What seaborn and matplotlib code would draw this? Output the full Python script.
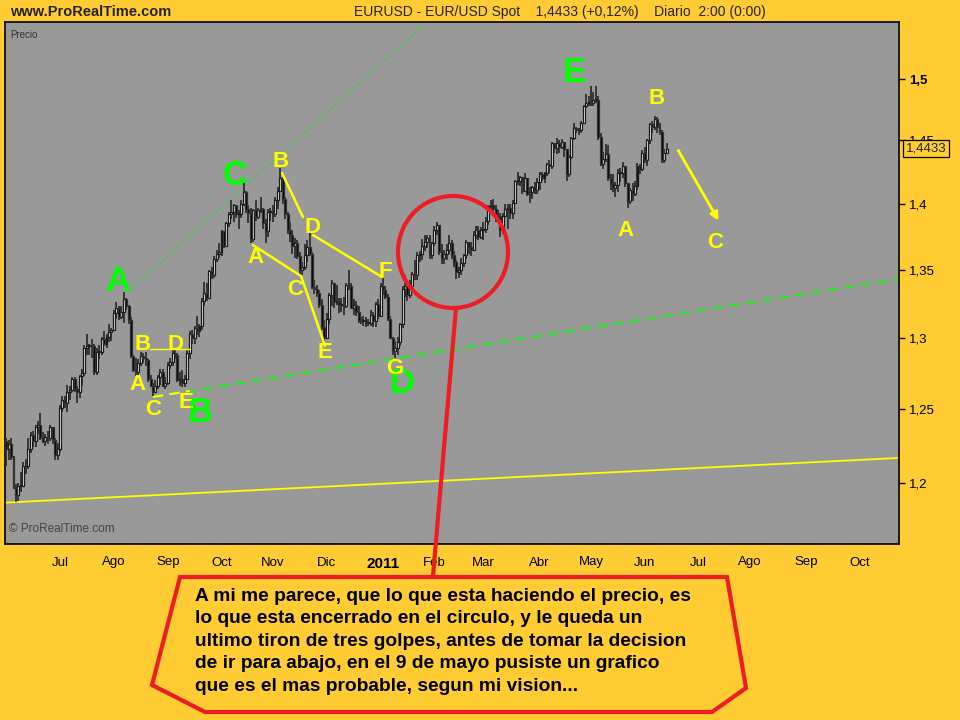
import numpy as np
import pandas as pd
import matplotlib
matplotlib.use("Agg")
import matplotlib.pyplot as plt
import matplotlib.transforms as mtransforms
from matplotlib.patches import Ellipse, Polygon
from matplotlib.lines import Line2D
from matplotlib.ticker import NullLocator
import seaborn as sns

# ---- data: EUR/USD daily candles, 1 Jun 2010 - 14 Jun 2011 ----
first_open = 1.2280
closes = [
    # Jun 2010
    1.2230, 1.2260, 1.2170, 1.1965, 1.1920, 1.1980, 1.1980, 1.2110, 1.2110, 1.2230,
    1.2320, 1.2280, 1.2380, 1.2390, 1.2300, 1.2280, 1.2310, 1.2300, 1.2380, 1.2290,
    1.2190, 1.2230,
    # Jul
    1.2510, 1.2560, 1.2540, 1.2620, 1.2630, 1.2710, 1.2640, 1.2620, 1.2730, 1.2750,
    1.2930, 1.2940, 1.2950, 1.2940, 1.2760, 1.2900, 1.2900, 1.2990, 1.2960, 1.3010,
    1.3040, 1.3060,
    # Aug
    1.3180, 1.3220, 1.3150, 1.3190, 1.3280, 1.3230, 1.3130, 1.2870, 1.2770, 1.2760,
    1.2820, 1.2870, 1.2860, 1.2840, 1.2710, 1.2660, 1.2620, 1.2660, 1.2720, 1.2760,
    1.2660, 1.2680,
    # Sep
    1.2810, 1.2830, 1.2890, 1.2880, 1.2700, 1.2710, 1.2680, 1.2710, 1.2890, 1.3030,
    1.3000, 1.3070, 1.3050, 1.3090, 1.3270, 1.3330, 1.3290, 1.3490, 1.3460, 1.3580,
    1.3620, 1.3630,
    # Oct
    1.3790, 1.3680, 1.3850, 1.3920, 1.3940, 1.3990, 1.3920, 1.3920, 1.4000, 1.4090,
    1.3960, 1.3930, 1.3730, 1.3950, 1.3900, 1.3950, 1.3960, 1.3850, 1.3790, 1.3940,
    1.3940,
    # Nov
    1.3920, 1.4030, 1.4100, 1.4200, 1.4040, 1.3920, 1.3800, 1.3760, 1.3680, 1.3700,
    1.3600, 1.3500, 1.3520, 1.3610, 1.3670, 1.3620, 1.3370, 1.3360, 1.3330, 1.3240,
    1.3080, 1.3000,
    # Dec
    1.3140, 1.3310, 1.3400, 1.3260, 1.3270, 1.3240, 1.3240, 1.3230, 1.3390, 1.3380,
    1.3220, 1.3240, 1.3190, 1.3130, 1.3120, 1.3130, 1.3110, 1.3110, 1.3170, 1.3120,
    1.3250, 1.3160, 1.3380,
    # Jan 2011
    1.3350, 1.3300, 1.3140, 1.3000, 1.2910, 1.2930, 1.2970, 1.3100, 1.3360, 1.3380,
    1.3310, 1.3380, 1.3470, 1.3460, 1.3610, 1.3620, 1.3680, 1.3710, 1.3740, 1.3610,
    1.3700,
    # Feb
    1.3800, 1.3840, 1.3630, 1.3590, 1.3620, 1.3650, 1.3700, 1.3610, 1.3560, 1.3480,
    1.3500, 1.3550, 1.3610, 1.3710, 1.3670, 1.3650, 1.3760, 1.3800, 1.3750, 1.3800,
    # Mar
    1.3810, 1.3870, 1.3980, 1.3990, 1.3960, 1.3900, 1.3910, 1.3800, 1.3910, 1.3960,
    1.3970, 1.3930, 1.4010, 1.4180, 1.4180, 1.4210, 1.4100, 1.4200, 1.4080, 1.4090,
    1.4130, 1.4110, 1.4170,
    # Apr
    1.4230, 1.4200, 1.4240, 1.4310, 1.4300, 1.4480, 1.4440, 1.4480, 1.4450, 1.4490,
    1.4430, 1.4230, 1.4370, 1.4520, 1.4600, 1.4580, 1.4580, 1.4640, 1.4780, 1.4800,
    1.4810,
    # May
    1.4800, 1.4830, 1.4830, 1.4530, 1.4310, 1.4350, 1.4390, 1.4200, 1.4160, 1.4120,
    1.4150, 1.4240, 1.4240, 1.4300, 1.4160, 1.4020, 1.4110, 1.4080, 1.4140, 1.4300,
    1.4270, 1.4400,
    # Jun
    1.4340, 1.4500, 1.4630, 1.4610, 1.4670, 1.4610, 1.4570, 1.4340, 1.4400, 1.4433,
]
highs = [
    1.2300, 1.2290, 1.2300, 1.2180, 1.1990, 1.2000, 1.2070, 1.2140, 1.2160, 1.2300,
    1.2340, 1.2350, 1.2390, 1.2420, 1.2470, 1.2340, 1.2330, 1.2350, 1.2390, 1.2380,
    1.2300, 1.2270,
    1.2530, 1.2590, 1.2590, 1.2670, 1.2660, 1.2720, 1.2720, 1.2660, 1.2740, 1.2780,
    1.2950, 1.3030, 1.2960, 1.2990, 1.2960, 1.2930, 1.2950, 1.3010, 1.3050, 1.3030,
    1.3100, 1.3070,
    1.3200, 1.3260, 1.3230, 1.3230, 1.3333, 1.3290, 1.3240, 1.3150, 1.2880, 1.2860,
    1.2850, 1.2900, 1.2890, 1.2900, 1.2850, 1.2740, 1.2680, 1.2700, 1.2740, 1.2780,
    1.2780, 1.2720,
    1.2830, 1.2860, 1.2920, 1.2930, 1.2890, 1.2760, 1.2770, 1.2740, 1.2920, 1.3050,
    1.3060, 1.3090, 1.3160, 1.3100, 1.3290, 1.3410, 1.3400, 1.3500, 1.3520, 1.3600,
    1.3650, 1.3700,
    1.3800, 1.3790, 1.3860, 1.3940, 1.4030, 1.4000, 1.3990, 1.3950, 1.4030, 1.4160,
    1.4100, 1.3990, 1.3970, 1.3960, 1.4030, 1.3970, 1.4050, 1.3970, 1.3880, 1.3960,
    1.3970,
    1.3990, 1.4050, 1.4130, 1.4282, 1.4220, 1.4050, 1.3940, 1.3860, 1.3800, 1.3740,
    1.3720, 1.3630, 1.3560, 1.3690, 1.3720, 1.3790, 1.3630, 1.3420, 1.3390, 1.3350,
    1.3280, 1.3130,
    1.3180, 1.3330, 1.3420, 1.3400, 1.3390, 1.3290, 1.3290, 1.3300, 1.3400, 1.3500,
    1.3400, 1.3280, 1.3270, 1.3230, 1.3150, 1.3160, 1.3150, 1.3140, 1.3200, 1.3190,
    1.3260, 1.3280, 1.3400,
    1.3440, 1.3380, 1.3320, 1.3160, 1.3010, 1.2980, 1.3010, 1.3110, 1.3380, 1.3460,
    1.3380, 1.3420, 1.3480, 1.3570, 1.3630, 1.3640, 1.3730, 1.3760, 1.3760, 1.3760,
    1.3710,
    1.3830, 1.3860, 1.3840, 1.3690, 1.3650, 1.3690, 1.3760, 1.3720, 1.3640, 1.3570,
    1.3520, 1.3590, 1.3620, 1.3720, 1.3710, 1.3710, 1.3790, 1.3830, 1.3830, 1.3820,
    1.3860, 1.3900, 1.3990, 1.4030, 1.4040, 1.3990, 1.3950, 1.3930, 1.3930, 1.4000,
    1.4000, 1.4000, 1.4030, 1.4190, 1.4250, 1.4220, 1.4210, 1.4240, 1.4200, 1.4130,
    1.4140, 1.4170, 1.4200,
    1.4250, 1.4250, 1.4250, 1.4320, 1.4340, 1.4490, 1.4480, 1.4520, 1.4500, 1.4510,
    1.4490, 1.4430, 1.4380, 1.4530, 1.4640, 1.4610, 1.4600, 1.4660, 1.4790, 1.4880,
    1.4860,
    1.4940, 1.4890, 1.4940, 1.4860, 1.4560, 1.4410, 1.4470, 1.4460, 1.4230, 1.4230,
    1.4170, 1.4270, 1.4280, 1.4330, 1.4300, 1.4130, 1.4120, 1.4160, 1.4180, 1.4320,
    1.4310, 1.4420,
    1.4450, 1.4510, 1.4640, 1.4660, 1.4695, 1.4690, 1.4640, 1.4580, 1.4430, 1.4480,
]
lows = [
    1.2110, 1.2150, 1.2150, 1.1960, 1.1876, 1.1880, 1.1940, 1.1970, 1.2060, 1.2090,
    1.2200, 1.2240, 1.2240, 1.2330, 1.2290, 1.2270, 1.2250, 1.2260, 1.2280, 1.2260,
    1.2150, 1.2150,
    1.2210, 1.2480, 1.2510, 1.2480, 1.2560, 1.2620, 1.2620, 1.2540, 1.2580, 1.2660,
    1.2730, 1.2880, 1.2880, 1.2860, 1.2740, 1.2740, 1.2850, 1.2880, 1.2940, 1.2930,
    1.2970, 1.2980,
    1.3050, 1.3140, 1.3130, 1.3140, 1.3110, 1.3200, 1.3100, 1.2860, 1.2760, 1.2730,
    1.2720, 1.2800, 1.2820, 1.2800, 1.2690, 1.2650, 1.2588, 1.2620, 1.2640, 1.2670,
    1.2650, 1.2640,
    1.2670, 1.2780, 1.2800, 1.2850, 1.2690, 1.2660, 1.2650, 1.2650, 1.2710, 1.2850,
    1.2960, 1.2960, 1.3020, 1.3010, 1.3060, 1.3230, 1.3270, 1.3290, 1.3430, 1.3440,
    1.3560, 1.3590,
    1.3600, 1.3660, 1.3680, 1.3820, 1.3880, 1.3860, 1.3890, 1.3810, 1.3890, 1.3980,
    1.3930, 1.3850, 1.3700, 1.3710, 1.3870, 1.3880, 1.3930, 1.3810, 1.3700, 1.3750,
    1.3870,
    1.3860, 1.3900, 1.3960, 1.4090, 1.4000, 1.3880, 1.3770, 1.3710, 1.3620, 1.3590,
    1.3580, 1.3450, 1.3460, 1.3500, 1.3560, 1.3600, 1.3360, 1.3320, 1.3300, 1.3220,
    1.3060, 1.2969,
    1.2990, 1.3100, 1.3230, 1.3220, 1.3240, 1.3180, 1.3190, 1.3170, 1.3220, 1.3350,
    1.3210, 1.3170, 1.3160, 1.3110, 1.3100, 1.3090, 1.3080, 1.3090, 1.3090, 1.3080,
    1.3080, 1.3140, 1.3150,
    1.3310, 1.3280, 1.3120, 1.2990, 1.2880, 1.2861, 1.2880, 1.2940, 1.3070, 1.3300,
    1.3270, 1.3290, 1.3350, 1.3420, 1.3420, 1.3560, 1.3570, 1.3640, 1.3660, 1.3580,
    1.3580,
    1.3680, 1.3760, 1.3610, 1.3540, 1.3540, 1.3570, 1.3620, 1.3580, 1.3520, 1.3429,
    1.3440, 1.3460, 1.3520, 1.3580, 1.3620, 1.3600, 1.3640, 1.3730, 1.3720, 1.3730,
    1.3720, 1.3780, 1.3840, 1.3930, 1.3910, 1.3860, 1.3850, 1.3750, 1.3770, 1.3900,
    1.3810, 1.3880, 1.3880, 1.4000, 1.4150, 1.4140, 1.4080, 1.4090, 1.4060, 1.4010,
    1.4040, 1.4080, 1.4080,
    1.4110, 1.4180, 1.4160, 1.4220, 1.4240, 1.4270, 1.4400, 1.4390, 1.4400, 1.4430,
    1.4370, 1.4180, 1.4210, 1.4350, 1.4500, 1.4560, 1.4540, 1.4560, 1.4630, 1.4760,
    1.4780,
    1.4780, 1.4780, 1.4800, 1.4500, 1.4300, 1.4270, 1.4330, 1.4180, 1.4110, 1.4090,
    1.4050, 1.4090, 1.4170, 1.4200, 1.4130, 1.3968, 1.4000, 1.4020, 1.4060, 1.4110,
    1.4230, 1.4260,
    1.4320, 1.4300, 1.4470, 1.4560, 1.4580, 1.4560, 1.4540, 1.4320, 1.4320, 1.4390,
]
dates = pd.bdate_range("2010-06-01", "2011-06-14")
axis_dates = pd.bdate_range("2010-06-01", "2011-10-31")
month_names = ["Ene", "Feb", "Mar", "Abr", "May", "Jun", "Jul",
               "Ago", "Sep", "Oct", "Nov", "Dic"]
price_levels = [1.2, 1.25, 1.3, 1.35, 1.4, 1.45, 1.5]
last_price = 1.4433

# trend lines (day index, price)
upper_channel = [(50.6, 1.335), (180.0, 1.563)]
lower_channel = [(60.0, 1.2584), (364.9, 1.3431)]
lower_yellow = [(60.0, 1.2584), (75.1, 1.2626)]
base_line = [(-0.5, 1.187), (364.9, 1.2167)]
bd_line = [(58.8, 1.2922), (75.1, 1.2922)]
ace_line = [(100.9, 1.3685), (120.5, 1.3453), (130.3, 1.2944)]
bd2_line = [(112.7, 1.4241), (121.3, 1.3899)]
df_line = [(125.4, 1.3761), (153.6, 1.3446)]
arrow_pts = [(274.1, 1.4439), (291.7, 1.3853)]

green_labels = [("A", 45.7, 1.3416), ("B", 79.2, 1.2474), ("C", 93.5, 1.4225),
                ("D", 161.8, 1.2681), ("E", 232.1, 1.5058)]
yellow_labels = [("B", 55.9, 1.2951), ("D", 69.0, 1.2951), ("A", 53.5, 1.2668),
                 ("C", 60.0, 1.2495), ("E", 73.5, 1.2542), ("B", 112.3, 1.4328),
                 ("A", 101.7, 1.3588), ("D", 125.0, 1.3815), ("C", 118.0, 1.3350),
                 ("E", 130.3, 1.2894), ("F", 154.8, 1.3490), ("G", 158.9, 1.2786),
                 ("B", 265.6, 1.4843), ("A", 253.3, 1.3799), ("C", 289.7, 1.3708)]

comment = ("A mi me parece, que lo que esta haciendo el precio, es\n"
           "lo que esta encerrado en el circulo, y le queda un\n"
           "ultimo tiron de tres golpes, antes de tomar la decision\n"
           "de ir para abajo, en el 9 de mayo pusiste un grafico\n"
           "que es el mas probable, segun mi vision...")

# ---- style ----
YELLOW_BG = "#FFCC33"
PLOT_BG = "#999999"
GREEN = "#00FF00"
YEL = "#FFFF00"
RED = "#EE1C24"

sns.set_style("white")
plt.rcParams["font.family"] = ["Liberation Sans", "DejaVu Sans"]
narrow = ["Liberation Sans Narrow", "Liberation Sans", "DejaVu Sans"]

fig = plt.figure(figsize=(9.6, 7.2), dpi=100, facecolor=YELLOW_BG)
ax = fig.add_axes([5 / 960, 1 - 544 / 720, 894 / 960, 522 / 720])
ax.set_facecolor(PLOT_BG)


def fx(px):
    return px / 960


def fy(py):
    return 1 - py / 720


# ---- candles ----
x = np.arange(len(closes))
c = np.array(closes)
o = np.concatenate([[first_open], c[:-1]])
h = np.array(highs)
l = np.array(lows)
up = c >= o
ax.vlines(x, l, h, color="#262626", lw=1.2, zorder=3)
body_lo = np.minimum(o, c)
body_h = np.maximum(np.abs(c - o), 0.0006)
ax.bar(x[up], body_h[up], bottom=body_lo[up], width=0.8, color="white",
       edgecolor="#1a1a1a", linewidth=0.9, zorder=4)
ax.bar(x[~up], body_h[~up], bottom=body_lo[~up], width=0.8, color="black",
       edgecolor="#333333", linewidth=0.9, zorder=4)


# ---- trend lines ----
def seg(pts, **kw):
    xs, ys = zip(*pts)
    sns.lineplot(x=list(xs), y=list(ys), ax=ax, sort=False, estimator=None, **kw)


seg(base_line, color=YEL, lw=1.3, zorder=2)
seg(upper_channel, color="#22DD22", lw=0.8, linestyle=(0, (2, 2)), zorder=2)
seg(lower_channel, color="#22EE22", lw=1.5, linestyle=(0, (5, 3)), zorder=2)
seg(lower_yellow, color=YEL, lw=1.5, linestyle=(0, (5, 3)), zorder=2)
seg(bd_line, color=YEL, lw=1.0, zorder=5)
seg(ace_line, color=YEL, lw=1.8, zorder=5)
seg(bd2_line, color=YEL, lw=1.8, zorder=5)
seg(df_line, color=YEL, lw=1.8, zorder=5)
ax.annotate("", xy=arrow_pts[1], xytext=arrow_pts[0],
            arrowprops=dict(arrowstyle="-|>", color=YEL, lw=2,
                            mutation_scale=12), zorder=6)

for t, xi, yi in green_labels:
    ax.text(xi, yi, t, color=GREEN, fontsize=25, fontweight="bold",
            ha="center", va="center", zorder=7)
for t, xi, yi in yellow_labels:
    ax.text(xi, yi, t, color=YEL, fontsize=16, fontweight="bold",
            ha="center", va="center", zorder=7)

# ---- axes ----
ax.set_yscale("log")
ax.set_ylim(1.1602, 1.548)
ax.set_xlim(-0.48, 364.87)
ax.yaxis.tick_right()
ax.set_yticks(price_levels)
ax.set_yticklabels([f"{p:g}".replace(".", ",") for p in price_levels],
                   family=narrow, fontsize=9.5)
ax.yaxis.set_minor_locator(NullLocator())
for lab in ax.get_yticklabels():
    if lab.get_text() == "1,5":
        lab.set_fontweight("bold")

month_pos, month_lab = [], []
prev = None
for i, d in enumerate(axis_dates):
    if prev is not None and d.month != prev and d >= pd.Timestamp("2010-07-01"):
        month_pos.append(i)
        month_lab.append(str(d.year) if d.month == 1 else month_names[d.month - 1])
    prev = d.month
ax.set_xticks(month_pos)
ax.set_xticklabels(month_lab, family=narrow, fontsize=9.5)
for lab in ax.get_xticklabels():
    if lab.get_text() == "2011":
        lab.set_fontweight("bold")
        lab.set_fontsize(11)
ax.xaxis.set_minor_locator(NullLocator())
ax.tick_params(axis="both", direction="out", length=4, width=1, color="black",
               pad=3, labelcolor="black")
ax.tick_params(axis="x", pad=5)
ax.grid(False)
for sp in ax.spines.values():
    sp.set_color("black")
    sp.set_linewidth(1.2)
    sp.set_visible(True)

trans = mtransforms.blended_transform_factory(ax.transAxes, ax.transData)
ax.text(1.0075, last_price, f"{last_price:.4f}".replace(".", ","), transform=trans,
        ha="left", va="center", fontsize=9.5, family=narrow, zorder=10,
        bbox=dict(boxstyle="square,pad=0.18", fc=YELLOW_BG, ec="black", lw=0.9))

ax.text(0.006, 0.985, "Precio", transform=ax.transAxes, fontsize=7,
        color="#333333", ha="left", va="top", family=narrow)
ax.text(0.004, 0.018, "\u00a9 ProRealTime.com", transform=ax.transAxes,
        fontsize=8.5, color="#444444", ha="left", va="bottom")

# ---- header ----
fig.text(fx(10), fy(12), "www.ProRealTime.com", fontsize=10.5, fontweight="bold",
         family=narrow, ha="left", va="center")
fig.text(fx(560), fy(12),
         "EURUSD - EUR/USD Spot    1,4433 (+0,12%)    Diario  2:00 (0:00)",
         fontsize=10, family=narrow, ha="center", va="center")

# ---- red circle, pointer and callout ----
fig.add_artist(Ellipse((fx(453), fy(252)), 110 / 960, 112 / 720,
                       transform=fig.transFigure, fill=False, ec=RED, lw=3,
                       zorder=20))
fig.add_artist(Line2D([fx(456), fx(433)], [fy(308), fy(576)], color=RED, lw=3,
                      transform=fig.transFigure, zorder=20))
callout = [(180, 577), (727, 577), (746, 688), (712, 712), (205, 712), (152, 685)]
fig.add_artist(Polygon([(fx(px), fy(py)) for px, py in callout], closed=True,
                       fill=False, ec=RED, lw=3, transform=fig.transFigure,
                       zorder=20))
fig.text(fx(195), fy(588), comment, fontsize=13.8, fontweight="bold",
         ha="left", va="top", linespacing=1.42, color="black")

fig.savefig("out.png", dpi=100, facecolor=YELLOW_BG)
